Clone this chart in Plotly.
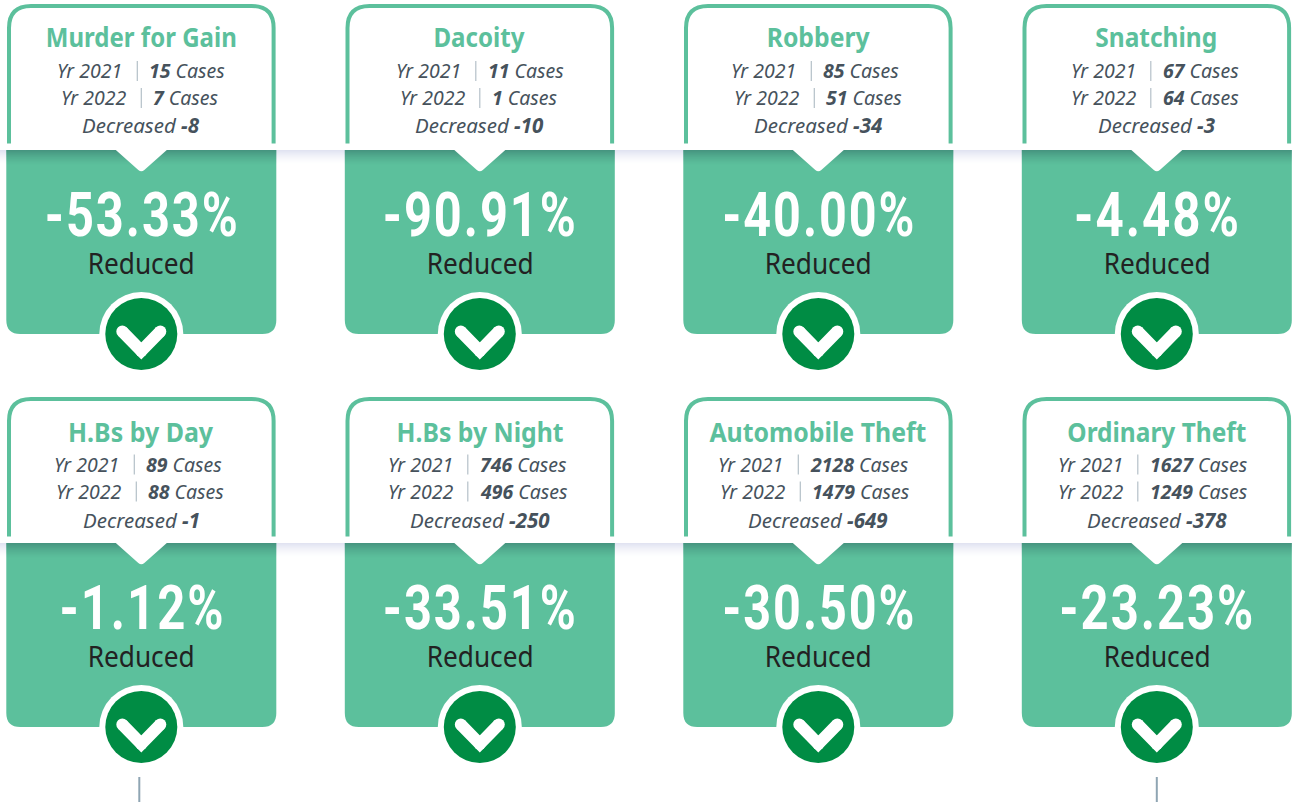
import json
import plotly.graph_objects as go

# ---- data ----
categories = ["Murder for Gain", "Dacoity", "Robbery", "Snatching",
              "H.Bs by Day", "H.Bs by Night", "Automobile Theft", "Ordinary Theft"]
cases_2021 = [15, 11, 85, 67, 89, 746, 2128, 1627]
cases_2022 = [7, 1, 51, 64, 88, 496, 1479, 1249]
change = [-8, -10, -34, -3, -1, -250, -649, -378]
percent = [-53.33, -90.91, -40.00, -4.48, -1.12, -33.51, -30.50, -23.23]
status_word = "Decreased"
result_word = "Reduced"

# ---- layout / style ----
W, H = 1292, 802
COL_CENTERS = [141.3, 479.8, 818.3, 1156.8]
ROW_OFFSETS = [0, 393]
SEP_OFFSETS = [(-4, 0), (-4, 0), (-7, -4), (-6, -6), (-7, -5), (-12, -12), (-20, -18), (-19, -19)]
TITLE_WIDTHS = [191, 91, 103, 122, 145, 167, 217, 179]
PCT_WIDTHS = [195, 195, 194, 167, 166, 195, 194, 196]
GREEN = "#5cc09c"
DARK = "#008c44"
INK = "#46525c"
BODY = "Noto Sans"
NUM = "Roboto"

shapes, annotations = [], []
fit_widths = {result_word: 107}
spaced = []


def path(d, fill=None, line=None, lw=0):
    shapes.append(dict(type="path", xref="x", yref="y", path=d, fillcolor=fill or "rgba(0,0,0,0)",
                       line=dict(color=line or "rgba(0,0,0,0)", width=lw), layer="above"))


def rect(x0, y0, x1, y1, fill):
    shapes.append(dict(type="rect", xref="x", yref="y", x0=x0, y0=y0, x1=x1, y1=y1,
                       fillcolor=fill, line=dict(width=0), layer="above"))


def circle(cx, cy, r, fill):
    shapes.append(dict(type="circle", xref="x", yref="y", x0=cx - r, y0=cy - r, x1=cx + r, y1=cy + r,
                       fillcolor=fill, line=dict(width=0), layer="above"))


def text(x, y, s, size, color, family=BODY, anchor="center", weight=400, style="normal"):
    annotations.append(dict(x=x, y=y, xref="x", yref="y", text=s, showarrow=False, xanchor=anchor,
                            yanchor="middle", font=dict(family=family, size=size, color=color,
                                                        weight=weight, style=style)))


# lavender band under the header edge, one per row
for dy in ROW_OFFSETS:
    for i in range(14):
        a = 0.9 * (1 - i / 14) ** 1.5
        rect(0, 150 + dy + i, W, 151 + dy + i, f"rgba(222,224,240,{a:.3f})")

for idx, name in enumerate(categories):
    cx = COL_CENTERS[idx % 4]
    row = idx // 4
    dy = ROW_OFFSETS[row]

    # green box
    x0, x1, y0, y1, r = cx - 135, cx + 135, 150 + dy, 334 + dy, 14
    path(f"M{x0},{y0} L{x1},{y0} L{x1},{y1 - r} Q{x1},{y1} {x1 - r},{y1} L{x0 + r},{y1} Q{x0},{y1} {x0},{y1 - r} Z", fill=GREEN)
    # shadow under header
    for i in range(15):
        a = 0.42 * (1 - i / 15) ** 1.4
        rect(x0, y0 + i, x1, y0 + i + 1, f"rgba(40,90,90,{a:.3f})")
    # white pointer
    ax = 25.5
    path(f"M{cx - ax},{y0} L{cx - 3},{y0 + 20} Q{cx},{y0 + 22.5} {cx + 3},{y0 + 20} L{cx + ax},{y0} Z", fill="white")

    # outlined header
    hx0, hx1, hy0, hy1, hr = cx - 132.3, cx + 132.3, 6 + dy, 143.5 + dy, 22
    path(f"M{hx0},{hy1} L{hx0},{hy0 + hr} Q{hx0},{hy0} {hx0 + hr},{hy0} L{hx1 - hr},{hy0} Q{hx1},{hy0} {hx1},{hy0 + hr} L{hx1},{hy1}",
         line=GREEN, lw=4)

    # circle with chevron
    cy = 334 + dy
    circle(cx, cy, 42, "white")
    circle(cx, cy, 36, DARK)
    pts = [(cx - 19, cy - 2.5), (cx, cy + 17), (cx + 19, cy - 2.5)]
    path(f"M{pts[0][0]},{pts[0][1]} L{pts[1][0]},{pts[1][1]} L{pts[2][0]},{pts[2][1]}", line="white", lw=12)
    for p in pts:
        circle(p[0], p[1], 6, "white")

    # texts
    text(cx, 36 + dy + (2.5 if row else 0), name, 27, GREEN, weight=700)
    fit_widths[name] = TITLE_WIDTHS[idx]
    for ln, (yr, val) in enumerate(((2021, cases_2021[idx]), (2022, cases_2022[idx]))):
        yy = 70.5 + 27 * ln + dy + (0.5 if row else 0)
        sx = cx + SEP_OFFSETS[idx][ln]
        text(sx - 13, yy, f"Yr {yr}", 19.5, INK, anchor="right", style="italic")
        shapes.append(dict(type="line", xref="x", yref="y", x0=sx, x1=sx, y0=yy - 9.5, y1=yy + 10.5,
                           line=dict(color="#b4c0c8", width=1.2), layer="above"))
        text(sx + 10, yy, f"<b>{val}</b> Cases", 19.5, INK, anchor="left", style="italic")
    text(cx, 125 + dy + (2 if row else 0), f"{status_word} <b>{change[idx]}</b>", 20.5, INK, style="italic")
    pct = f"{percent[idx]:.2f}%"
    fit_widths[pct] = PCT_WIDTHS[idx]
    spaced.append(pct)
    text(cx + 1, 214.5 + dy, pct, 62, "white", family=NUM, weight=700)
    text(cx, 262 + dy, result_word, 29, "#222222")

# stubs at the bottom edge
for sx in (COL_CENTERS[0] - 2, COL_CENTERS[3]):
    shapes.append(dict(type="line", xref="x", yref="y", x0=sx, x1=sx, y0=777, y1=802,
                       line=dict(color="#8fa5b3", width=2), layer="above"))

fig = go.Figure()
fig.update_layout(width=W, height=H, margin=dict(l=0, r=0, t=0, b=0), paper_bgcolor="white",
                  plot_bgcolor="white", showlegend=False, shapes=shapes, annotations=annotations,
                  xaxis=dict(range=[0, W], visible=False, fixedrange=True),
                  yaxis=dict(range=[H, 0], visible=False, fixedrange=True))
# The page has no condensed typeface, so the display text is fitted to its width as SVG text.
fit_script = """
document.body.style.margin='0';document.body.style.overflow='hidden';
var widths = %s, spaced = %s;
document.querySelectorAll('.annotation-text').forEach(function (t) {
  var s = t.textContent, w = widths[s];
  if (w) {
    if (spaced.indexOf(s) >= 0) { t.style.letterSpacing = '2.5px'; }
    t.setAttribute('textLength', w); t.setAttribute('lengthAdjust', 'spacingAndGlyphs');
  }
});
""" % (json.dumps(fit_widths), json.dumps(spaced))
fig.write_html("out.html", config=dict(displayModeBar=False), post_script=fit_script)
